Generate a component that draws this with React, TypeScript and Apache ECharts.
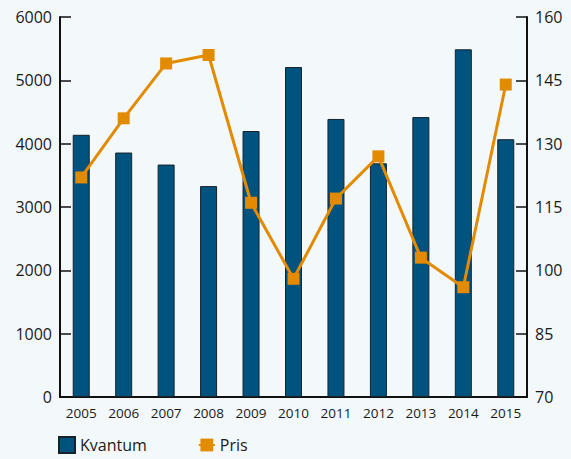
import React, { useEffect, useRef } from "react";
import * as echarts from "echarts";

const years = ["2005", "2006", "2007", "2008", "2009", "2010", "2011", "2012", "2013", "2014", "2015"];
const kvantum = [4140, 3860, 3670, 3330, 4200, 5210, 4390, 3690, 4420, 5490, 4070];
const pris = [122, 136, 149, 151, 116, 98, 117, 127, 103, 96, 144];

const BG = "#f3f8fb";
const BAR = "#00527f";
const LINE = "#e38b00";
const FONT = "Open Sans";

export default function App() {
  const ref = useRef<HTMLDivElement>(null);
  useEffect(() => {
    document.body.style.margin = "0";
    document.body.style.background = BG;
    const chart = echarts.init(ref.current!, null, { renderer: "svg" });
    chart.setOption({
      animation: false,
      backgroundColor: BG,
      textStyle: { fontFamily: FONT },
      grid: { left: 60, right: 44, top: 17, bottom: 62 },
      legend: {
        left: 53,
        top: 431,
        itemWidth: 16,
        itemHeight: 16,
        itemGap: 51,
        textStyle: { fontSize: 16, color: "#1a1a1a", fontFamily: FONT },
        data: [
          { name: "Kvantum", icon: "rect" },
          { name: "Pris" },
        ],
      },
      xAxis: {
        type: "category",
        data: years,
        boundaryGap: true,
        axisLine: { lineStyle: { color: "#111", width: 2 } },
        axisTick: { inside: true, length: 10, lineStyle: { color: "#111", width: 1.5 } },
        axisLabel: { color: "#1a1a1a", fontSize: 13.5, margin: 9, fontFamily: FONT },
      },
      yAxis: [
        {
          type: "value",
          min: 0,
          max: 6000,
          interval: 1000,
          splitLine: { show: false },
          axisLine: { show: true, lineStyle: { color: "#111", width: 2 } },
          axisTick: { show: true, inside: true, length: 11, lineStyle: { color: "#111", width: 1.5 } },
          axisLabel: { color: "#1a1a1a", fontSize: 16, margin: 8, fontFamily: FONT, formatter: (v: number) => String(v) },
        },
        {
          type: "value",
          min: 70,
          max: 160,
          interval: 15,
          position: "right",
          splitLine: { show: false },
          axisLine: { show: true, lineStyle: { color: "#111", width: 2 } },
          axisTick: { show: true, inside: true, length: 11, lineStyle: { color: "#111", width: 1.5 } },
          axisLabel: { color: "#1a1a1a", fontSize: 16, margin: 8, fontFamily: FONT, formatter: (v: number) => String(v) },
        },
      ],
      series: [
        {
          name: "Kvantum",
          type: "bar",
          yAxisIndex: 0,
          data: kvantum,
          barWidth: 17,
          itemStyle: { color: BAR, borderColor: "#16232b", borderWidth: 1 },
        },
        {
          name: "Pris",
          type: "line",
          yAxisIndex: 1,
          data: pris,
          symbol: "rect",
          symbolSize: 12,
          lineStyle: { color: LINE, width: 3 },
          itemStyle: { color: LINE },
        },
      ],
    });
    return () => chart.dispose();
  }, []);
  return <div ref={ref} style={{ width: 571, height: 459, background: BG }} />;
}
